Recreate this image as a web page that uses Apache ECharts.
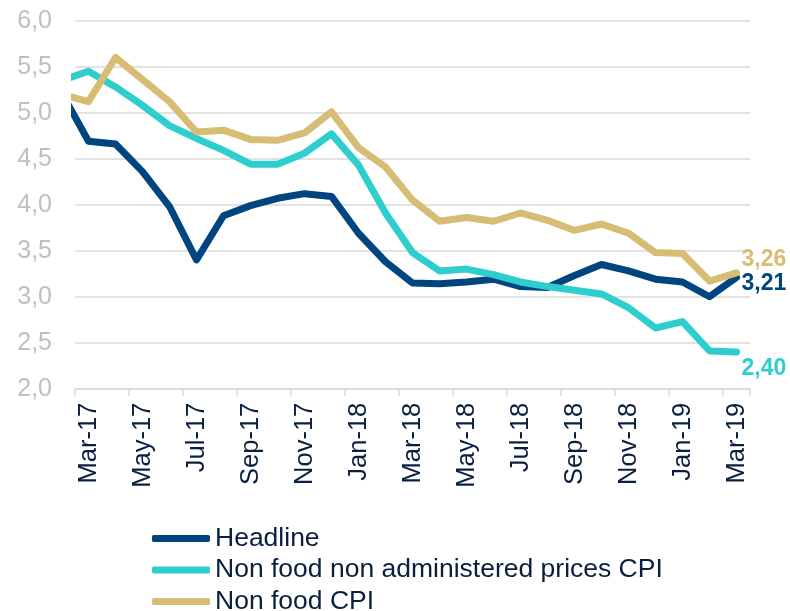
<!DOCTYPE html>
<html>
<head>
<meta charset="utf-8">
<script src="https://cdn.jsdelivr.net/npm/echarts@6/dist/echarts.min.js"></script>
<style>
    html, body { margin: 0; padding: 0; background: #fff; }
    #cpi_chart { width: 790px; height: 611px; }
</style>
</head>
<body>
<div id="cpi_chart"></div>
<script>
    // first value (Feb-17) only shows as the line entering from the left edge
    const leadMonth = 'Feb-17';
    const months = ['Mar-17','Apr-17','May-17','Jun-17','Jul-17','Aug-17','Sep-17','Oct-17','Nov-17','Dec-17',
        'Jan-18','Feb-18','Mar-18','Apr-18','May-18','Jun-18','Jul-18','Aug-18','Sep-18','Oct-18','Nov-18','Dec-18',
        'Jan-19','Feb-19','Mar-19'];
    const headline = [5.22, 4.69, 4.66, 4.36, 3.98, 3.40, 3.88, 3.99, 4.07, 4.12, 4.09, 3.69, 3.38,
        3.15, 3.14, 3.16, 3.19, 3.11, 3.10, 3.23, 3.35, 3.28, 3.19, 3.16, 3.00, 3.21];
    const nonFoodNonAdmin = [5.35, 5.45, 5.28, 5.08, 4.86, 4.72, 4.59, 4.44, 4.44, 4.56, 4.77, 4.43, 3.91,
        3.48, 3.28, 3.30, 3.24, 3.16, 3.11, 3.07, 3.03, 2.88, 2.66, 2.73, 2.41, 2.40];
    const nonFood = [5.20, 5.12, 5.60, 5.36, 5.12, 4.79, 4.81, 4.71, 4.70, 4.78, 5.01, 4.62, 4.41,
        4.05, 3.82, 3.86, 3.82, 3.91, 3.83, 3.72, 3.79, 3.69, 3.48, 3.47, 3.17, 3.26];
    const yTicks = [2.0, 2.5, 3.0, 3.5, 4.0, 4.5, 5.0, 5.5, 6.0];

    const comma = (v, d) => v.toFixed(d).replace('.', ',');
    const toPairs = arr => arr.map((v, i) => [i - 1, v]);

    const chart = echarts.init(document.getElementById('cpi_chart'), null, {renderer: 'canvas'});

    const lineSeries = (name, values, color, offset) => ({
        name: name,
        type: 'line',
        xAxisIndex: 1,
        data: toPairs(values),
        showSymbol: false,
        symbol: 'none',
        clip: true,
        lineStyle: {color: color, width: 7, cap: 'round', join: 'round'},
        itemStyle: {color: color},
        endLabel: {
            show: true,
            formatter: p => comma(p.value[1], 2),
            color: color,
            fontFamily: 'Liberation Sans, Arial, sans-serif',
            fontWeight: 'bold',
            fontSize: 23,
            distance: 5,
            offset: offset
        }
    });

    const option = {
        animation: false,
        grid: {left: 75, right: 40, top: 20.7, bottom: 222.3},
        legend: {
            orient: 'vertical',
            left: 152,
            top: 525,
            padding: 0,
            height: 95,
            itemWidth: 58,
            itemHeight: 7,
            itemGap: 4.5,
            icon: 'roundRect',
            textStyle: {
                color: '#0A1F40',
                fontFamily: 'Liberation Sans, Arial, sans-serif',
                fontSize: 26.5,
                lineHeight: 27
            },
            data: ['Headline', 'Non food non administered prices CPI', 'Non food CPI']
        },
        xAxis: [
            {
                type: 'category',
                data: months,
                boundaryGap: true,
                axisLine: {lineStyle: {color: '#D9D9D9', width: 1.5}},
                axisTick: {show: true, interval: 1, length: 7, lineStyle: {color: '#D9D9D9', width: 1.5}},
                axisLabel: {
                    interval: 1,
                    rotate: 90,
                    margin: 14,
                    color: '#0A1F40',
                    fontFamily: 'Liberation Sans, Arial, sans-serif',
                    fontSize: 25.5
                },
                splitLine: {show: false}
            },
            {
                type: 'value',
                min: -0.5,
                max: months.length - 0.5,
                show: false
            }
        ],
        yAxis: {
            type: 'value',
            min: yTicks[0],
            max: yTicks[yTicks.length - 1],
            interval: 0.5,
            axisLine: {show: false},
            axisTick: {show: false},
            axisLabel: {
                margin: 23,
                color: '#BFBFBF',
                fontFamily: 'Liberation Sans, Arial, sans-serif',
                fontSize: 25,
                formatter: v => comma(v, 1)
            },
            splitLine: {lineStyle: {color: '#D9D9D9', width: 1.5}}
        },
        series: [
            lineSeries('Headline', headline, '#00457F', [0, 6]),
            lineSeries('Non food non administered prices CPI', nonFoodNonAdmin, '#2ECECE', [0, 17]),
            lineSeries('Non food CPI', nonFood, '#D7BC74', [0, -13])
        ]
    };

    chart.setOption(option, true);
</script>
</body>
</html>
